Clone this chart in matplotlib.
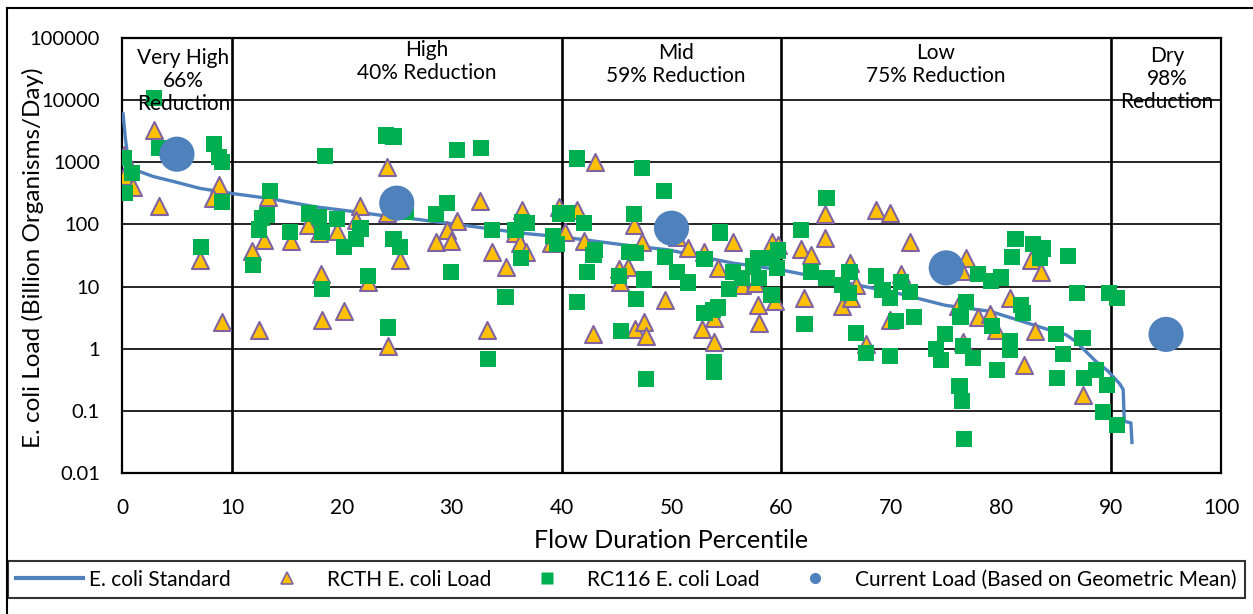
import numpy as np
import matplotlib.pyplot as plt
from matplotlib.lines import Line2D

plt.rcParams['font.family'] = ['Lato', 'DejaVu Sans']

# E. coli standard curve (load duration curve)
std_x = [0.1, 0.3, 0.6, 1.5, 2.85, 4.7, 7.1, 10.0, 13.3, 17.6, 21.2, 24.5, 26.2, 30.5, 36.5,
         40.0, 45.6, 49.7, 55.5, 60.0, 66.1, 70.6, 74.9, 79.0, 84.4, 85.9, 86.8, 88.6,
         89.7, 90.8, 91.1, 91.2, 91.8, 91.9]
std_y = [6000, 2500, 950, 720, 590, 490, 380, 315, 263, 192, 160, 133, 125, 100, 72,
         63, 47, 39, 24, 18.5, 11.3, 7.8, 5.0, 4.0, 2.0, 1.68, 1.3, 0.63,
         0.44, 0.27, 0.22, 0.068, 0.064, 0.031]

# RCTH E. coli load samples
rcth_x = [0.15, 0.15, 1.0, 2.9, 3.4, 8.8, 8.3, 7.1, 9.1,
          13.3, 11.8, 12.9, 15.4, 16.9, 17.9, 18.1, 19.6, 18.2, 20.2, 12.5, 21.7, 21.3, 22.4,
          24.1, 24.2, 24.1, 25.3,
          32.6, 30.5, 29.6, 28.6, 29.9, 33.7, 34.9, 36.4, 35.8, 36.2, 36.8, 33.2, 39.8, 39.0,
          40.3, 41.4, 43.0, 42.0, 45.2, 46.0, 45.3, 46.6, 47.3, 42.9, 46.7, 47.5, 47.7, 49.4,
          50.5, 51.5, 53.0, 55.6, 54.2, 56.4, 57.6, 59.1, 59.7, 57.9, 59.4, 52.8, 53.9, 53.9,
          58.0, 61.8, 62.7, 64.0, 64.0, 62.1, 66.2, 66.8, 65.5, 66.3, 68.6, 69.9, 71.7, 70.9,
          69.9, 67.7,
          76.8, 76.4, 82.7, 83.6, 80.8, 77.9, 79.0, 79.5, 83.1, 82.1, 87.4, 76.5, 76.1]
rcth_y = [1300, 600, 400, 3300, 200, 430, 263, 27, 2.7,
          280, 37, 56, 55, 98, 72, 16, 79, 2.9, 4.0, 2.0, 200, 117, 12,
          850, 1.1, 150, 27,
          237, 115, 81, 53, 55, 36, 21, 170, 72, 50, 36, 2.0, 190, 50,
          76, 170, 1020, 55, 19, 21, 12, 98, 53, 1.7, 2.1, 2.65, 1.6, 6.1,
          63, 41, 36, 53, 20, 10.6, 11.3, 53, 47, 5.1, 5.8, 2.1, 3.1, 1.3,
          2.6, 40, 32, 147, 61, 6.5, 24, 10.6, 4.8, 6.5, 170, 150, 53, 16,
          2.9, 1.2,
          29, 18, 27, 17, 6.5, 3.2, 3.6, 2.0, 1.9, 0.55, 0.18, 1.3, 4.8]

# RC116 E. coli load samples
rc116_x = [2.9, 3.4, 0.15, 0.9, 0.3, 8.4, 8.8, 9.1, 9.1, 7.15,
           13.5, 13.2, 12.7, 12.5, 11.9, 15.3, 17.0, 17.9, 18.2, 18.5, 18.2, 19.6, 20.2, 21.3,
           21.7, 22.4, 24.2, 24.0, 24.7, 24.7, 25.3,
           30.5, 32.7, 25.8, 29.6, 28.6, 33.7, 35.8, 36.4, 36.8, 36.3, 29.9, 34.9, 33.3, 39.2,
           39.6, 39.9, 40.5, 41.4, 42.0, 43.0, 42.9, 42.3, 41.4, 47.3, 46.6, 46.1, 46.8, 45.2,
           47.5, 46.8, 45.4, 47.7, 49.3, 49.4,
           54.4, 53.0, 50.5, 51.5, 55.6, 56.4, 55.2, 57.9, 57.4, 58.0, 59.1, 59.7, 59.6, 59.1,
           53.0, 53.8, 54.2, 53.9, 53.9,
           61.8, 64.1, 62.7, 64.1, 65.5, 66.2, 66.1, 62.1, 68.6, 69.2, 69.9, 70.9, 71.7, 70.4,
           72.1, 66.8, 67.7, 69.9,
           81.3, 82.9, 83.8, 83.5, 81.0, 86.1, 77.9, 79.1, 80.0, 86.9, 89.8, 90.5, 76.8, 76.3,
           81.8, 82.0, 79.2, 74.9, 76.5, 77.4, 80.8, 80.8, 85.0, 85.6, 87.4, 79.6, 85.1, 87.5,
           88.6, 89.6, 89.3, 90.5, 76.2, 76.4, 76.6, 74.1, 74.5]
rc116_y = [11000, 1680, 1160, 665, 325, 1950, 1230, 1000, 230, 43,
           350, 140, 125, 83, 22, 76, 150, 133, 76, 1280, 9.2, 122, 44, 58,
           86, 15, 2.2, 2700, 2600, 59, 43,
           1580, 1720, 160, 218, 145, 81, 81, 110, 106, 29, 17, 6.9, 0.69, 66,
           49, 150, 150, 1150, 107, 39, 32, 17, 5.6, 810, 145, 36, 35, 15,
           13, 6.3, 1.9, 0.33, 350, 30,
           74, 28, 17, 11.6, 17, 13.6, 9.2, 29, 21, 13.6, 29, 38, 20, 7.4,
           3.8, 4.2, 4.6, 0.6, 0.43,
           81, 270, 17, 13.6, 10.6, 17, 7.9, 2.5, 15, 8.9, 6.5, 11.7, 8.1, 2.8,
           3.2, 1.8, 0.85, 0.77,
           58, 48, 41, 29, 30, 31, 16, 12.4, 14, 7.8, 8.0, 6.6, 5.6, 3.3,
           5.1, 3.7, 2.3, 1.7, 1.1, 0.71, 1.35, 0.96, 1.7, 0.82, 1.5, 0.46, 0.34, 0.34,
           0.46, 0.26, 0.095, 0.06, 0.25, 0.145, 0.035, 1.0, 0.65]

# current load (geometric mean) per flow regime
cur_x = [5, 25, 50, 75, 95]
cur_y = [1350, 220, 87, 20, 1.7]

# flow regime labels
zone_bounds = [10, 40, 60, 90]
zone_x = [5.6, 27.7, 50.4, 74.0, 95.1]
zone_top = [48, 40, 43, 43, 46]
zone_text = ["Very High\n66%\nReduction", "High\n40% Reduction", "Mid\n59% Reduction",
             "Low\n75% Reduction", "Dry\n98%\nReduction"]

blue = '#4F81BD'
green = '#00B050'
gold = '#FFC000'
purple = '#8064A2'

fig = plt.figure(figsize=(12.53, 6.14), dpi=100)
ax = fig.add_axes([122 / 1253, 1 - 473 / 614, (1221 - 122) / 1253, (473 - 38) / 614])

ax.set_yscale('log')
ax.set_xlim(0, 100)
ax.set_ylim(0.01, 100000)
ax.set_yticks([0.01, 0.1, 1, 10, 100, 1000, 10000, 100000])
ax.set_yticklabels(['0.01', '0.1', '1', '10', '100', '1000', '10000', '100000'])
ax.set_xticks(range(0, 101, 10))
ax.minorticks_off()
ax.tick_params(axis='x', length=0, pad=18, labelsize=15)
ax.tick_params(axis='y', length=0, pad=16, labelsize=14.5)
ax.grid(axis='y', color='black', lw=1.2)
for b in zone_bounds:
    ax.axvline(b, color='black', lw=1.9, zorder=1)
for s in ax.spines.values():
    s.set_color('black')
    s.set_linewidth(1.6)

ax.plot(std_x, std_y, color=blue, lw=2.4, zorder=3)
ax.scatter(rcth_x, rcth_y, marker='^', s=150, c=gold, edgecolors=purple, linewidths=1.5, zorder=4)
ax.scatter(rc116_x, rc116_y, marker='s', s=135, c=green, edgecolors='none', zorder=5)
ax.scatter(cur_x, cur_y, marker='o', s=640, c=blue, edgecolors='none', zorder=6)

for zx, zt, txt in zip(zone_x, zone_top, zone_text):
    ax.text(zx, 1 - (zt - 38) / 435, txt, transform=ax.get_xaxis_transform(),
            ha='center', va='top', fontsize=15, linespacing=1.2, zorder=7)

ax.set_xlabel('Flow Duration Percentile', fontsize=18, labelpad=8)
fig.text(33 / 1253, 1 - 258 / 614, 'E. coli Load (Billion Organisms/Day)', rotation=90,
         ha='center', va='center', fontsize=17.5)

handles = [
    Line2D([], [], color=blue, lw=3),
    Line2D([], [], ls='none', marker='^', ms=8, mfc=gold, mec=purple, mew=1.2),
    Line2D([], [], ls='none', marker='s', ms=8, mfc=green, mec='none'),
    Line2D([], [], ls='none', marker='o', ms=8, mfc=blue, mec='none'),
]
labels = ['E. coli Standard', 'RCTH E. coli Load', 'RC116 E. coli Load',
          'Current Load (Based on Geometric Mean)']
leg = fig.legend(handles, labels, loc='lower left', ncol=4, mode='expand',
                 bbox_to_anchor=(8 / 1253, 1 - 598 / 614, 1237 / 1253, 36 / 614),
                 fontsize=15, frameon=True, fancybox=False, handlelength=3.2,
                 handletextpad=0.3, borderaxespad=0, columnspacing=1.5)
leg.get_frame().set_edgecolor('black')
leg.get_frame().set_linewidth(1.5)

# outer chart border
fig.add_artist(Line2D([7 / 1253, 7 / 1253], [0, 1 - 8 / 614], color='black', lw=1.5))
fig.add_artist(Line2D([7 / 1253, 1], [1 - 8 / 614, 1 - 8 / 614], color='black', lw=1.5))

fig.savefig('out.png', dpi=100)
